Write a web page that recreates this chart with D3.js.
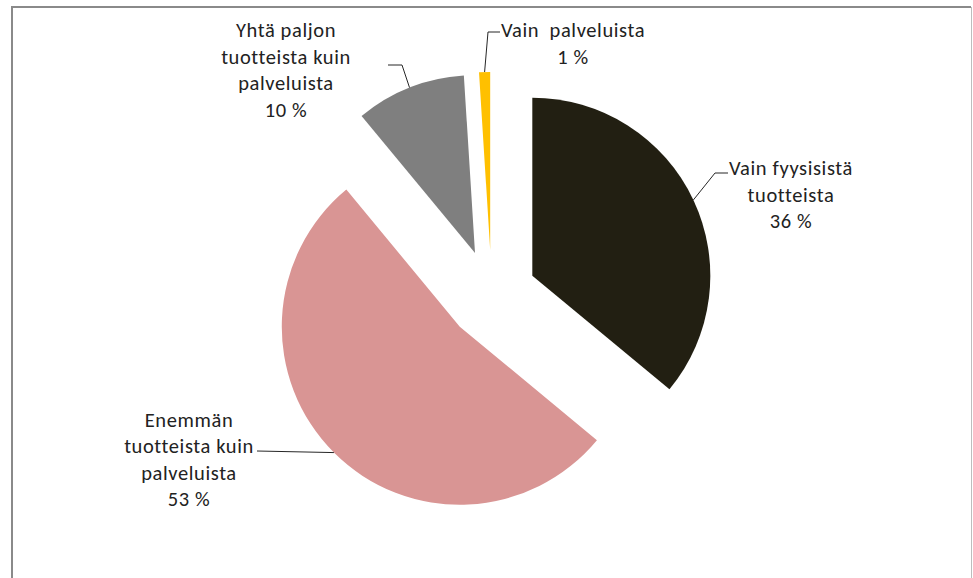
<!DOCTYPE html>
<html>
<head>
<meta charset="utf-8">
<script src="https://cdn.jsdelivr.net/npm/d3@7"></script>
<style>
  html, body { margin: 0; padding: 0; background: #fff; }
  svg { display: block; }
  text { font-family: Carlito, Lato, "Liberation Sans", sans-serif; font-size: 20.5px; letter-spacing: 0.6px; font-variant-ligatures: none; fill: #222; white-space: pre; }
</style>
</head>
<body>
<svg id="chart" width="973" height="578"></svg>
<script>
// ---- data ----
const categories = [
  "Vain fyysisistä tuotteista",
  "Enemmän tuotteista kuin palveluista",
  "Yhtä paljon tuotteista kuin palveluista",
  "Vain  palveluista"
];
const values = [36, 53, 10, 1];
const labelLines = [
  ["Vain fyysisistä", "tuotteista", "36 %"],
  ["Enemmän", "tuotteista kuin", "palveluista", "53 %"],
  ["Yhtä paljon", "tuotteista kuin", "palveluista", "10 %"],
  ["Vain  palveluista", "1 %"]
];
const colors = ["#221f12", "#d99594", "#7f7f7f", "#ffc000"];

// ---- layout ----
const W = 973, H = 578;
const cx = 491.6, cy = 294.9, R = 178, explode = 45;
const lineH = 26.5;
// label first-baseline positions (layout)
const labelPos = [[791, 175], [189, 426.7], [286, 37], [573, 37]];
// leader elbow points (layout)
const leaderPts = [
  [[715, 173], [728, 173]],
  [[257, 451]],
  [[402, 65], [388, 65]],
  [[488, 32], [500, 32]]
];

const svg = d3.select("#chart");

// frame
svg.append("line").attr("x1", 12).attr("y1", 7).attr("x2", 971).attr("y2", 7)
  .attr("stroke", "#8a8a8a").attr("stroke-width", 2);
svg.append("line").attr("x1", 12).attr("y1", 6).attr("x2", 12).attr("y2", H)
  .attr("stroke", "#8a8a8a").attr("stroke-width", 2);
svg.append("line").attr("x1", 971.5).attr("y1", 7).attr("x2", 971.5).attr("y2", H)
  .attr("stroke", "#bdbdbd").attr("stroke-width", 1);

const pie = d3.pie().sort(null).value(d => d).startAngle(0).endAngle(2 * Math.PI);
const arcs = pie(values);
const arc = d3.arc().innerRadius(0).outerRadius(R);

const g = svg.append("g").attr("transform", `translate(${cx},${cy})`);

arcs.forEach((a, i) => {
  const mid = (a.startAngle + a.endAngle) / 2;
  const ox = explode * Math.sin(mid), oy = -explode * Math.cos(mid);
  g.append("path")
    .attr("d", arc(a))
    .attr("transform", `translate(${ox},${oy})`)
    .attr("fill", colors[i]);

  // leader line from outer arc at mid angle
  const sx = cx + ox + R * Math.sin(mid), sy = cy + oy - R * Math.cos(mid);
  const pts = [[sx, sy]].concat(leaderPts[i]);
  svg.append("path")
    .attr("d", d3.line()(pts))
    .attr("fill", "none").attr("stroke", "#262626").attr("stroke-width", 1);

  const t = svg.append("text").attr("text-anchor", "middle")
    .attr("x", labelPos[i][0]).attr("y", labelPos[i][1]);
  labelLines[i].forEach((ln, j) => {
    t.append("tspan").attr("x", labelPos[i][0])
      .attr("y", labelPos[i][1] + j * lineH).text(ln);
  });
});
</script>
</body>
</html>
